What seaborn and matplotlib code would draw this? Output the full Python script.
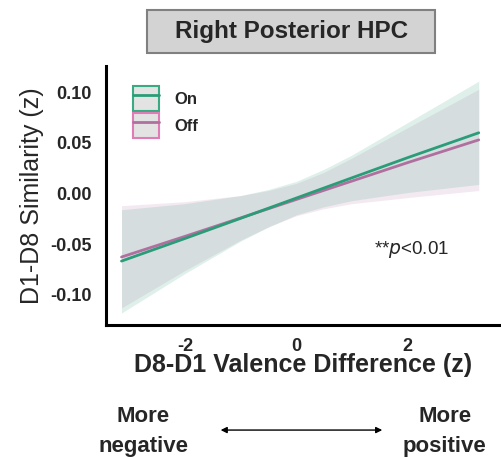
import numpy as np
import pandas as pd
import matplotlib
matplotlib.use("Agg")
import matplotlib.pyplot as plt
import seaborn as sns
from matplotlib.patches import Patch, Rectangle, FancyArrowPatch
from matplotlib.lines import Line2D

# values
valence = [-3.14, -2.0, -1.0, -0.5, 0.0, 0.5, 1.0, 2.0, 3.28]

on_fit = [-0.0667, -0.0444, -0.0245, -0.0145, -0.0045, 0.0055, 0.0155, 0.0354, 0.0600]
on_low = [-0.118, -0.079, -0.047, -0.033, -0.021, -0.013, -0.007, 0.001, 0.009]
on_high = [-0.016, -0.010, -0.002, 0.004, 0.012, 0.024, 0.038, 0.070, 0.111]

off_fit = [-0.0627, -0.0423, -0.0241, -0.0150, -0.0059, 0.0032, 0.0123, 0.0305, 0.0530]
off_low = [-0.113, -0.076, -0.046, -0.033, -0.022, -0.015, -0.010, -0.004, 0.003]
off_high = [-0.012, -0.008, -0.002, 0.003, 0.010, 0.021, 0.035, 0.065, 0.103]

conditions = ["On", "Off"]
colors = {"On": "#2a9d78", "Off": "#b0709f"}
edge_colors = {"On": "#3aaa82", "Off": "#e07bb5"}

yticks = [-0.10, -0.05, 0.00, 0.05, 0.10]
xticks = [-2, 0, 2]

sns.set_theme(style="white")
plt.rcParams["font.family"] = ["Liberation Sans", "DejaVu Sans"]
plt.rcParams["axes.unicode_minus"] = False

df = pd.concat([
    pd.DataFrame({"x": valence, "y": on_fit, "cond": "On"}),
    pd.DataFrame({"x": valence, "y": off_fit, "cond": "Off"}),
])

fig = plt.figure(figsize=(5.02, 4.58), dpi=100)
ax = fig.add_axes([0.211, 0.290, 0.787, 0.566])

# confidence bands
ax.fill_between(valence, off_low, off_high, color=colors["Off"], alpha=0.15, linewidth=0)
ax.fill_between(valence, on_low, on_high, color=colors["On"], alpha=0.15, linewidth=0)

sns.lineplot(data=df, x="x", y="y", hue="cond", hue_order=["Off", "On"],
             palette=colors, linewidth=2, legend=False, ax=ax)

ax.set_xlim(-3.42, 3.68)
ax.set_ylim(-0.130, 0.126)
ax.set_xticks(xticks)
ax.set_xticklabels([str(t) for t in xticks], fontsize=13, fontweight="bold")
ax.set_yticks(yticks)
ax.set_yticklabels([f"{t:.2f}" for t in yticks], fontsize=13, fontweight="bold")
ax.tick_params(axis="y", length=0, pad=10)
ax.tick_params(axis="x", length=0, pad=9)

for s in ["top", "right"]:
    ax.spines[s].set_visible(False)
for s in ["left", "bottom"]:
    ax.spines[s].set_color("black")
    ax.spines[s].set_linewidth(2.2)

ax.set_xlabel("D8-D1 Valence Difference (z)", fontsize=18, fontweight="bold", labelpad=-1)
ax.set_ylabel("D1-D8 Similarity (z)", fontsize=18, labelpad=5)

# legend: grey box with coloured edge and a line through it
handles = []
for c in conditions:
    handles.append((Patch(facecolor="#e3e3e3", edgecolor=edge_colors[c], linewidth=1.5),
                    Line2D([], [], color=colors[c], linewidth=2)))
leg = ax.legend(handles, conditions, loc="upper left", bbox_to_anchor=(0.03, 0.98),
                frameon=False, handlelength=1.6, handleheight=1.9, handletextpad=0.9,
                labelspacing=0.15, prop={"weight": "bold", "size": 12})

ax.text(1.39, -0.055, "**$\\it{p}$<0.01", fontsize=13.5, va="center", ha="left")

# title box
fig.add_artist(Rectangle((0.293, 0.884), 0.574, 0.094, transform=fig.transFigure,
                         facecolor="#d3d3d3", edgecolor="#808080", linewidth=1.5))
fig.text(0.580, 0.931, "Right Posterior HPC", fontsize=17.5, fontweight="bold",
         ha="center", va="center")

# direction labels under the x axis
fig.text(0.285, 0.058, "More\nnegative", fontsize=16, fontweight="bold",
         ha="center", va="center", linespacing=1.55)
fig.text(0.886, 0.058, "More\npositive", fontsize=16, fontweight="bold",
         ha="center", va="center", linespacing=1.55)
fig.add_artist(FancyArrowPatch(
    (0.434, 0.061), (0.767, 0.061), transform=fig.transFigure,
    arrowstyle="<|-|>", mutation_scale=9, color="black", linewidth=1))

fig.savefig("out.png", dpi=100)
